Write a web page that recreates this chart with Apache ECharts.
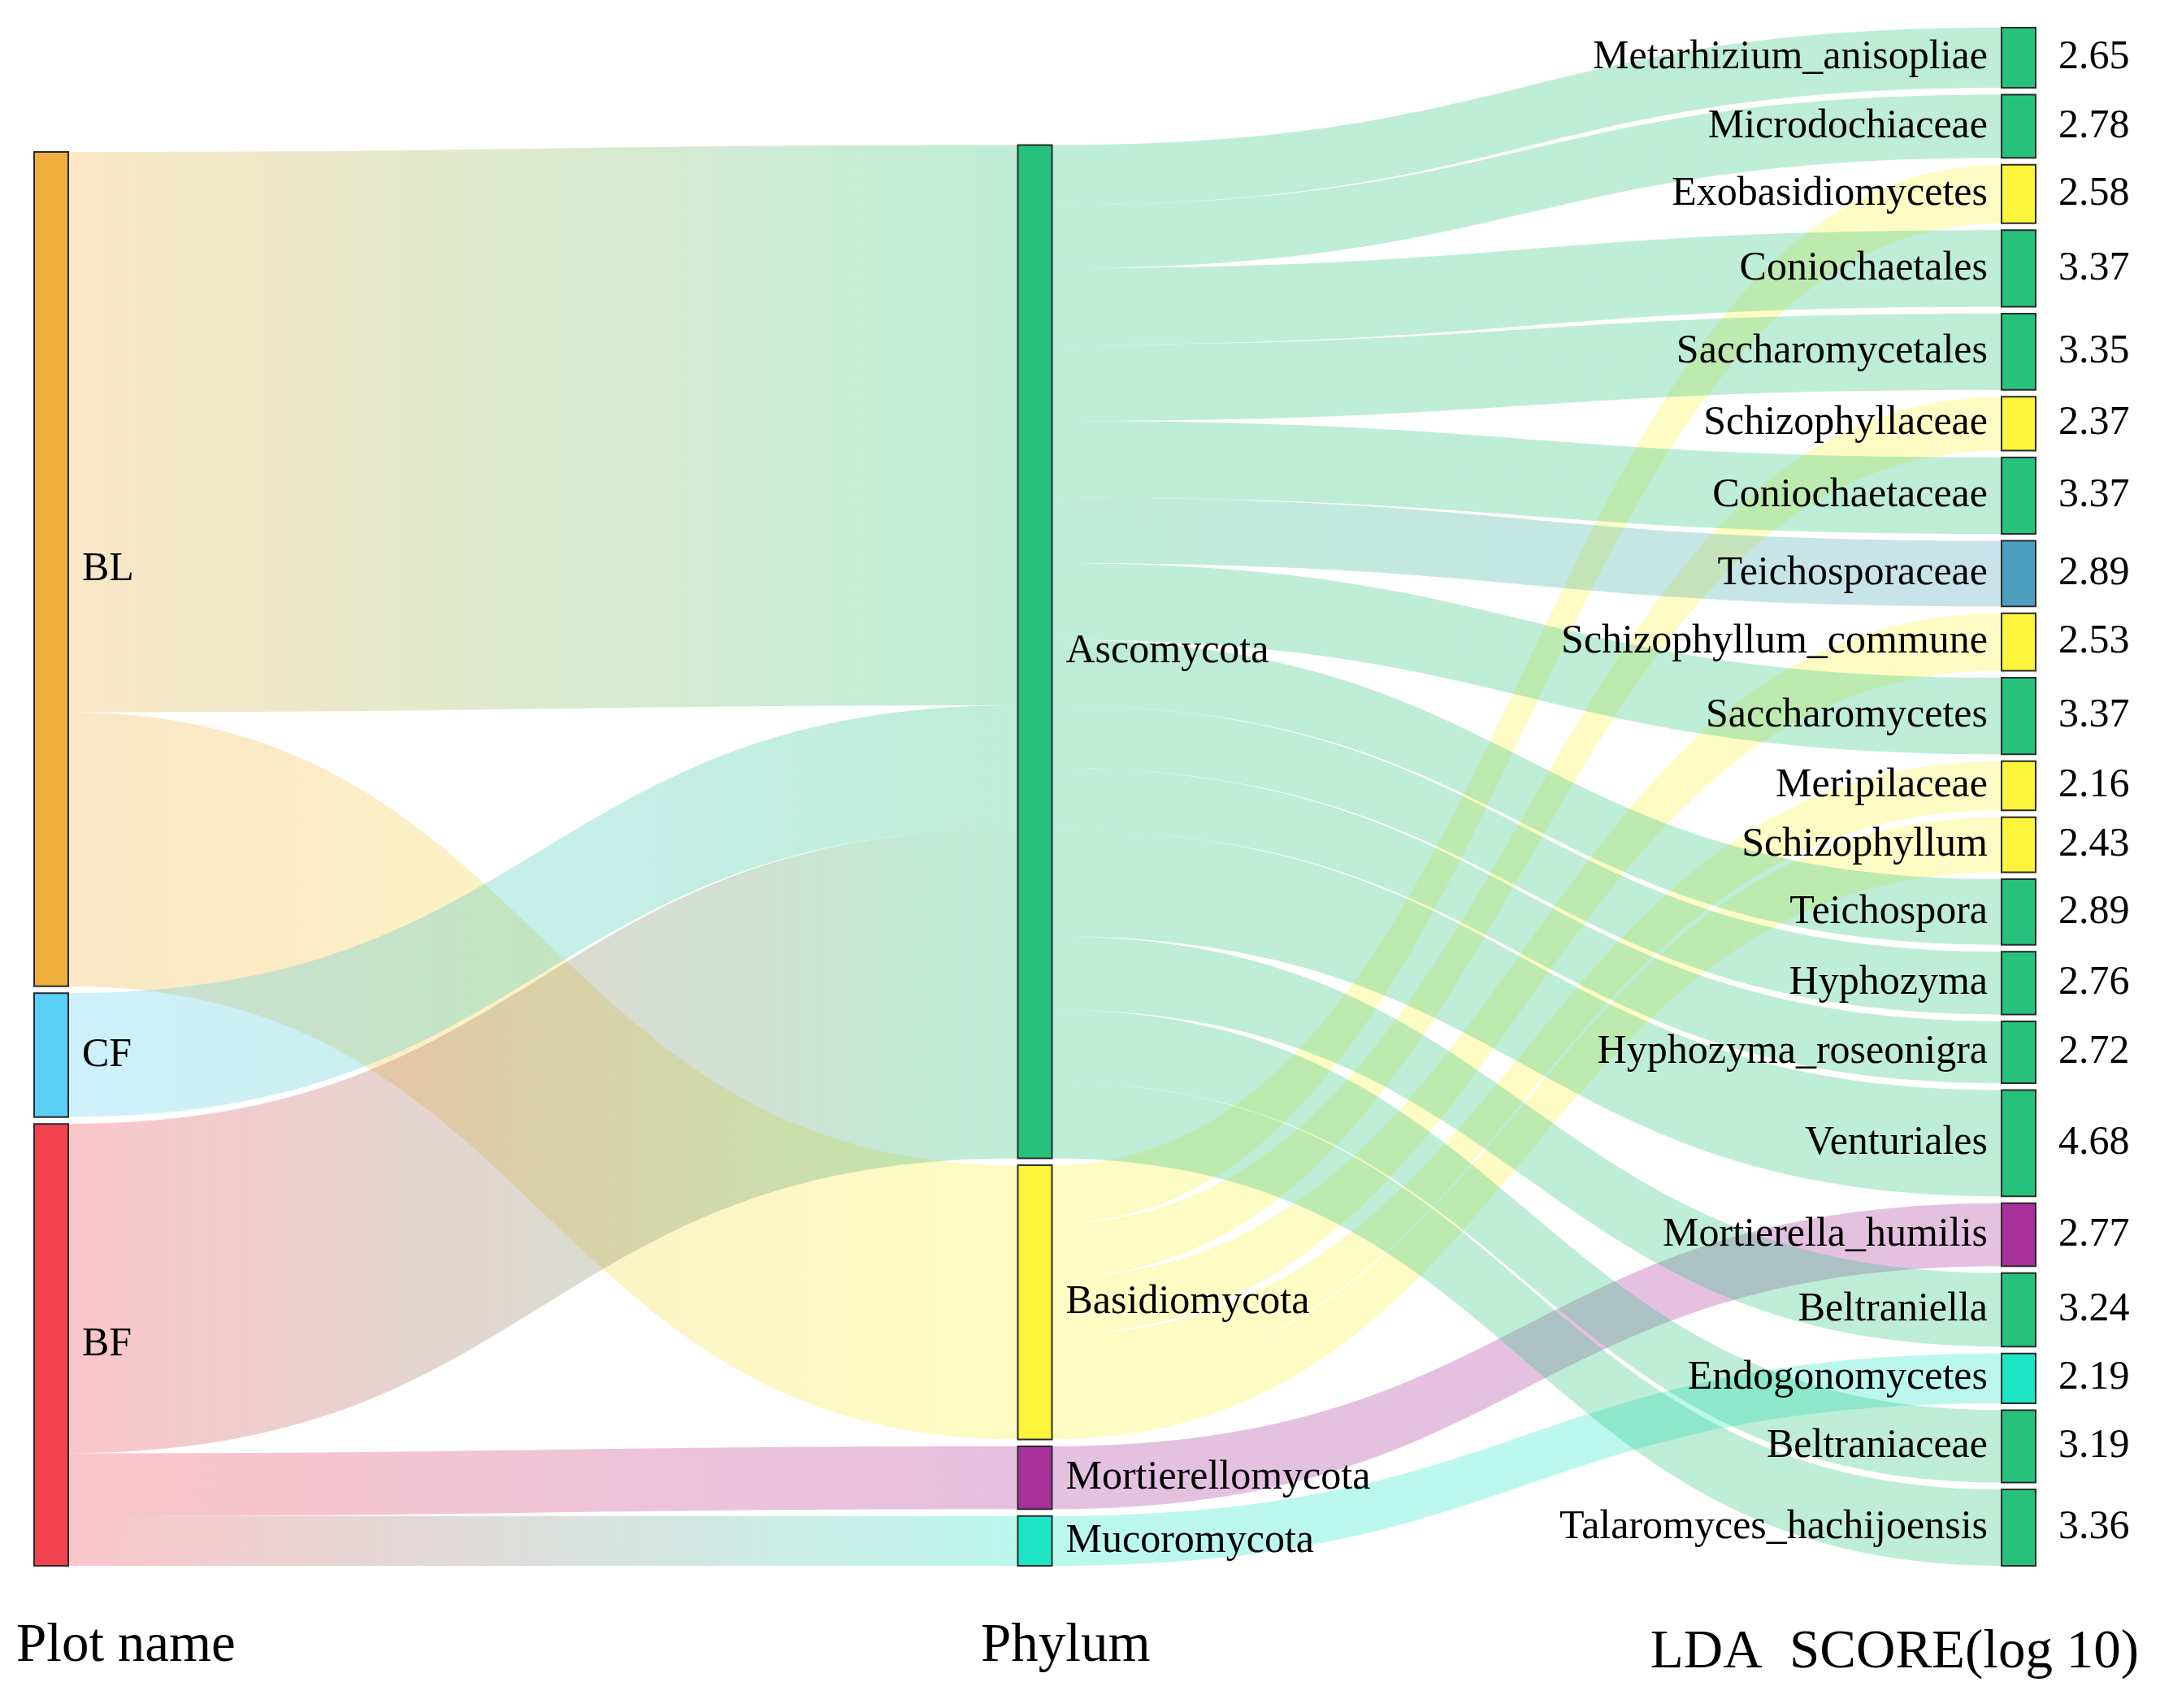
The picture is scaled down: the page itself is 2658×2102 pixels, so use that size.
<!DOCTYPE html>
<html><head><meta charset="utf-8">
<script src="https://cdn.jsdelivr.net/npm/echarts@6/dist/echarts.min.js"></script>
<style>html,body{margin:0;padding:0;background:#fff}#chart{width:2658px;height:2102px}</style>
</head><body><div id="chart"></div>
<script>
// ---------- data ----------
const plots = ['BL', 'CF', 'BF'];
const plotColors = ['#F0AE3E', '#5CCFF5', '#F2414F'];

const phyla = ['Ascomycota', 'Basidiomycota', 'Mortierellomycota', 'Mucoromycota'];
const phylumColors = ['#26C27C', '#FBF53B', '#A8309A', '#1DE6C4'];

const taxa = [
  'Metarhizium_anisopliae', 'Microdochiaceae', 'Exobasidiomycetes', 'Coniochaetales',
  'Saccharomycetales', 'Schizophyllaceae', 'Coniochaetaceae', 'Teichosporaceae',
  'Schizophyllum_commune', 'Saccharomycetes', 'Meripilaceae', 'Schizophyllum',
  'Teichospora', 'Hyphozyma', 'Hyphozyma_roseonigra', 'Venturiales',
  'Mortierella_humilis', 'Beltraniella', 'Endogonomycetes', 'Beltraniaceae',
  'Talaromyces_hachijoensis'
];
const taxaPhylum = [
  'Ascomycota', 'Ascomycota', 'Basidiomycota', 'Ascomycota',
  'Ascomycota', 'Basidiomycota', 'Ascomycota', 'Ascomycota',
  'Basidiomycota', 'Ascomycota', 'Basidiomycota', 'Basidiomycota',
  'Ascomycota', 'Ascomycota', 'Ascomycota', 'Ascomycota',
  'Mortierellomycota', 'Ascomycota', 'Mucoromycota', 'Ascomycota',
  'Ascomycota'
];
const taxaColors = [
  '#26C27C', '#26C27C', '#FBF53B', '#26C27C',
  '#26C27C', '#FBF53B', '#26C27C', '#4E9EBE',
  '#FBF53B', '#26C27C', '#FBF53B', '#FBF53B',
  '#26C27C', '#26C27C', '#26C27C', '#26C27C',
  '#A8309A', '#26C27C', '#1DE6C4', '#26C27C',
  '#26C27C'
];
const ldaScores = [
  2.65, 2.78, 2.58, 3.37,
  3.35, 2.37, 3.37, 2.89,
  2.53, 3.37, 2.16, 2.43,
  2.89, 2.76, 2.72, 4.68,
  2.77, 3.24, 2.19, 3.19,
  3.36
];

const plotLinkSource = ['BL', 'BL', 'CF', 'BF', 'BF', 'BF'];
const plotLinkTarget = ['Ascomycota', 'Basidiomycota', 'Ascomycota', 'Ascomycota', 'Mortierellomycota', 'Mucoromycota'];
const plotLinkValues = [24.67, 12.07, 5.45, 14.50, 2.77, 2.19];

const columnTitles = ['Plot name', 'Phylum', 'LDA  SCORE(log 10)'];

// ---------- layout constants ----------
const LAYOUT = { left: 42, top: 34, width: 2463, height: 1893 };
const GAP = 8.5;
const NODE_W = 42;
const FONT = 'Liberation Serif';

// value of every node
const sum = a => a.reduce((s, v) => s + v, 0);
const plotValues = plots.map(p => sum(plotLinkValues.filter((v, i) => plotLinkSource[i] === p)));
const phylumValues = phyla.map(p => sum(ldaScores.filter((v, i) => taxaPhylum[i] === p)));

// same scale ECharts uses (the tallest column sets it); left columns bottom-aligned
const ky = (LAYOUT.height - (taxa.length - 1) * GAP) / sum(ldaScores);
function bottomAligned(names, values) {
  const out = {};
  let cursor = LAYOUT.height;
  for (let i = names.length - 1; i >= 0; i--) {
    const y = cursor - values[i] * ky;
    out[names[i]] = y / LAYOUT.height;
    cursor = y - GAP;
  }
  return out;
}
const plotY = bottomAligned(plots, plotValues);
const phylumY = bottomAligned(phyla, phylumValues);

const labelBase = { color: '#000', fontFamily: FONT, fontSize: 50 };

function buildNodes(withValues) {
  const nodes = [];
  plots.forEach((p, i) => nodes.push({
    name: p, depth: 0, localY: plotY[p],
    itemStyle: withValues ? { color: 'rgba(0,0,0,0)', borderWidth: 0 } : { color: plotColors[i] },
    label: withValues ? { show: false } : Object.assign({ show: true, position: 'right', distance: 16 }, labelBase)
  }));
  phyla.forEach((p, i) => nodes.push({
    name: p, depth: 1, localY: phylumY[p],
    itemStyle: withValues ? { color: 'rgba(0,0,0,0)', borderWidth: 0 } : { color: phylumColors[i] },
    label: withValues ? { show: false } : Object.assign({ show: true, position: 'right', distance: 16 }, labelBase)
  }));
  taxa.forEach((t, i) => nodes.push({
    name: t, depth: 2,
    itemStyle: withValues ? { color: 'rgba(0,0,0,0)', borderWidth: 0 } : { color: taxaColors[i] },
    label: withValues
      ? Object.assign({ show: true, position: 'right', distance: 28, formatter: ldaScores[i].toFixed(2) }, labelBase)
      : Object.assign({ show: true, position: 'left', distance: 16 }, labelBase)
  }));
  return nodes;
}

function buildLinks() {
  const links = [];
  plotLinkSource.forEach((s, i) => links.push({ source: s, target: plotLinkTarget[i], value: plotLinkValues[i] }));
  taxa.forEach((t, i) => links.push({ source: taxaPhylum[i], target: t, value: ldaScores[i] }));
  return links;
}

function sankeySeries(withValues) {
  return {
    type: 'sankey',
    left: LAYOUT.left, top: LAYOUT.top, width: LAYOUT.width, height: LAYOUT.height,
    nodeWidth: NODE_W, nodeGap: GAP, layoutIterations: 0, nodeAlign: 'justify',
    draggable: false, silent: withValues,
    emphasis: { disabled: true },
    data: buildNodes(withValues),
    links: buildLinks(),
    itemStyle: withValues ? { borderWidth: 0 } : { borderColor: '#2b2b2b', borderWidth: 2 },
    lineStyle: withValues ? { opacity: 0 } : { color: 'gradient', opacity: 0.3, curveness: 0.5 }
  };
}

const chart = echarts.init(document.getElementById('chart'), null, { renderer: 'canvas' });
chart.setOption({
  backgroundColor: '#fff',
  animation: false,
  series: [sankeySeries(false), sankeySeries(true)],
  graphic: [
    { type: 'text', x: 20, y: 2026, style: { text: columnTitles[0], fontFamily: FONT, fontSize: 67, fill: '#000', verticalAlign: 'middle' } },
    { type: 'text', x: 1207, y: 2026, style: { text: columnTitles[1], fontFamily: FONT, fontSize: 67, fill: '#000', verticalAlign: 'middle' } },
    { type: 'text', x: 2632, y: 2034, style: { text: columnTitles[2], fontFamily: FONT, fontSize: 67, fill: '#000', align: 'right', verticalAlign: 'middle' } }
  ]
});
</script>
</body></html>
